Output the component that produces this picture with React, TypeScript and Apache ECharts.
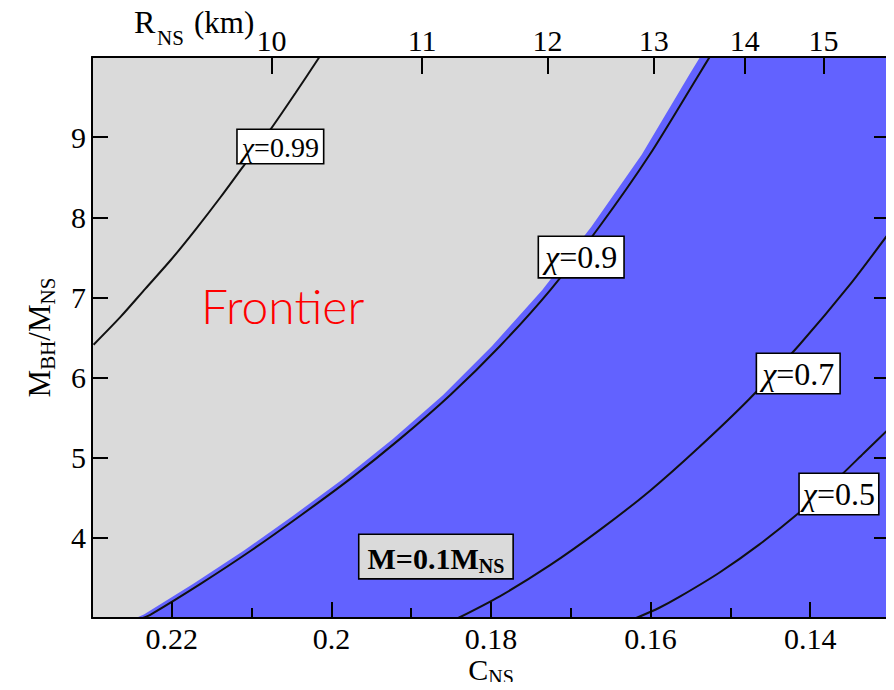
import React, { useEffect, useRef } from 'react';
import * as echarts from 'echarts';

// C_NS * R_NS (km) for the fixed neutron-star mass
const K_CR = 2.075;
const rNsTicks = [10, 11, 12, 13, 14, 15];
const cMajorTicks = [0.14, 0.16, 0.18, 0.2, 0.22];
const cMinorTicks = [0.15, 0.17, 0.19, 0.21];
const mTicks = [4, 5, 6, 7, 8, 9];

// chi = 0.99 contour
const chi099C = [0.2298, 0.2264, 0.2233, 0.2201, 0.217, 0.2139, 0.2108, 0.2076, 0.2045, 0.2015];
const chi099M = [6.41, 6.76, 7.11, 7.47, 7.85, 8.25, 8.67, 9.1, 9.55, 10.0];
// chi = 0.9 contour
const chi09C = [0.2236, 0.2226, 0.2164, 0.2101, 0.2039, 0.1976, 0.1914, 0.1851, 0.1789, 0.1726, 0.1664, 0.1601, 0.1539, 0.1526];
const chi09M = [3.0, 3.045, 3.426, 3.839, 4.276, 4.739, 5.235, 5.783, 6.391, 7.089, 7.885, 8.783, 9.789, 10.0];
// chi = 0.7 contour
const chi07C = [0.1841, 0.1789, 0.1726, 0.1664, 0.1601, 0.1539, 0.1476, 0.1414, 0.1351, 0.13];
const chi07M = [3.0, 3.271, 3.659, 4.096, 4.586, 5.134, 5.736, 6.403, 7.149, 7.821];
// chi = 0.5 contour
const chi05C = [0.1618, 0.1589, 0.1564, 0.1514, 0.1464, 0.1414, 0.1364, 0.1333, 0.13];
const chi05M = [3.0, 3.128, 3.263, 3.565, 3.916, 4.313, 4.756, 5.056, 5.375];
// edge of the blue (M = 0.1 M_NS) region
const frontierC = [0.2245, 0.2235, 0.2173, 0.211, 0.2048, 0.1985, 0.1923, 0.186, 0.1799, 0.1736, 0.1674, 0.1611, 0.1551, 0.1538, 0.13];
const frontierM = [3.0, 3.045, 3.426, 3.839, 4.276, 4.739, 5.235, 5.783, 6.391, 7.089, 7.885, 8.783, 9.789, 10.0, 10.0];

// contour labels
const labelValues = ['0.99', '0.9', '0.7', '0.5'];
const labelC = [0.2064, 0.1687, 0.1415, 0.1364];
const labelM = [8.883, 7.504, 6.051, 4.547];
const massLabelPos = [0.1869, 3.767];

const SERIF = '"Liberation Serif", "Times New Roman", serif';

export default function App() {
  const ref = useRef<HTMLDivElement>(null);

  useEffect(() => {
    if (!ref.current) return;
    const chart = echarts.init(ref.current, null, { renderer: 'svg' });
    const zip = (c: number[], m: number[]) => c.map((v, i) => [v, m[i]]);
    const black = { color: '#000', width: 2 };
    const xBase = {
      type: 'value',
      min: 0.13,
      max: 0.23,
      inverse: true,
      splitLine: { show: false },
      z: 10,
    };
    const yBase = { type: 'value', min: 3, max: 10, splitLine: { show: false }, z: 10 };
    const lineSeries = (c: number[], m: number[]) => ({
      type: 'line',
      data: zip(c, m),
      showSymbol: false,
      symbol: 'none',
      smooth: 0.25,
      lineStyle: { color: '#111', width: 2 },
      z: 3,
      silent: true,
      clip: true,
    });
    const labelSizes = [28, 32, 32, 32];
    const labelPads = [
      [3, 4, 2, 4],
      [4, 6, 4, 6],
      [4, 5, 3, 5],
      [4, 3, 4, 3],
    ];
    const gridRect = {
      left: 92,
      top: 57,
      width: 798,
      height: 561,
      containLabel: false,
      outerBoundsMode: 'none',
    };

    const option: any = {
      animation: false,
      backgroundColor: '#ffffff',
      grid: [
        { ...gridRect, show: true, backgroundColor: '#dadada', borderWidth: 0 },
        { ...gridRect, show: false },
      ],
      xAxis: [
        {
          ...xBase,
          gridIndex: 0,
          position: 'bottom',
          axisLine: { show: true, lineStyle: black },
          axisTick: { show: true, inside: true, length: 16, customValues: cMajorTicks, lineStyle: black },
          axisLabel: {
            show: true,
            customValues: cMajorTicks,
            margin: 7,
            fontFamily: SERIF,
            fontSize: 30,
            lineHeight: 26,
            color: '#000',
            formatter: (v: number) => String(+Number(v).toFixed(2)),
          },
          name: '{a|C}{s|NS}',
          nameLocation: 'middle',
          nameGap: 33,
          nameMoveOverlap: false,
          nameTextStyle: {
            rich: {
              a: { fontFamily: SERIF, fontSize: 30, color: '#000' },
              s: { fontFamily: SERIF, fontSize: 20, color: '#000', padding: [16, 0, 0, 0] },
            },
          },
        },
        {
          ...xBase,
          gridIndex: 0,
          position: 'top',
          axisLine: { show: true, lineStyle: black },
          axisTick: {
            show: true,
            inside: true,
            length: 17,
            customValues: rNsTicks.map((r) => K_CR / r),
            lineStyle: black,
          },
          axisLabel: {
            show: true,
            customValues: rNsTicks.map((r) => K_CR / r),
            margin: 2,
            fontFamily: SERIF,
            fontSize: 30,
            color: '#000',
            formatter: (v: number) => String(Math.round(K_CR / v)),
          },
        },
        {
          ...xBase,
          gridIndex: 1,
          position: 'bottom',
          axisLine: { show: false },
          axisTick: { show: true, inside: true, length: 10, customValues: cMinorTicks, lineStyle: black },
          axisLabel: { show: false },
        },
      ],
      yAxis: [
        {
          ...yBase,
          gridIndex: 0,
          position: 'left',
          axisLine: { show: true, lineStyle: black },
          axisTick: { show: true, inside: true, length: 16, customValues: mTicks, lineStyle: black },
          axisLabel: {
            show: true,
            customValues: mTicks,
            margin: 6,
            fontFamily: SERIF,
            fontSize: 30,
            color: '#000',
          },
          name: '{a|M}{s|BH}{a|/M}{s|NS}',
          nameLocation: 'middle',
          nameRotate: 90,
          nameGap: 34,
          nameMoveOverlap: false,
          nameTextStyle: {
            rich: {
              a: { fontFamily: SERIF, fontSize: 31, color: '#000' },
              s: { fontFamily: SERIF, fontSize: 21, color: '#000', padding: [16, 0, 0, 0] },
            },
          },
        },
        {
          ...yBase,
          gridIndex: 0,
          position: 'right',
          axisLine: { show: true, lineStyle: black },
          axisTick: { show: true, inside: true, length: 16, customValues: mTicks, lineStyle: black },
          axisLabel: { show: false },
        },
        { ...yBase, gridIndex: 1, show: false },
      ],
      series: [
        {
          type: 'line',
          name: 'M=0.1M_NS region',
          data: zip(frontierC, frontierM),
          showSymbol: false,
          symbol: 'none',
          smooth: false,
          lineStyle: { width: 0, color: '#6262ff' },
          areaStyle: { color: '#6262ff', opacity: 1, origin: 'start' },
          z: 1,
          silent: true,
        },
        { ...lineSeries(chi099C, chi099M), name: 'χ=0.99' },
        { ...lineSeries(chi09C, chi09M), name: 'χ=0.9' },
        { ...lineSeries(chi07C, chi07M), name: 'χ=0.7' },
        { ...lineSeries(chi05C, chi05M), name: 'χ=0.5' },
        {
          type: 'scatter',
          name: 'labels',
          silent: true,
          z: 5,
          symbolSize: 1,
          itemStyle: { color: 'rgba(0,0,0,0)', opacity: 1 },
          data: labelC.map((c, i) => ({
            value: [c, labelM[i]],
            label: {
              padding: labelPads[i],
              rich: {
                g: { fontFamily: SERIF, fontSize: labelSizes[i], lineHeight: labelSizes[i], fontStyle: 'italic', color: '#000' },
                t: { fontFamily: SERIF, fontSize: labelSizes[i], lineHeight: labelSizes[i], color: '#000' },
              },
            },
          })),
          label: {
            show: true,
            position: 'inside',
            formatter: (p: any) => '{g|χ}{t|=' + labelValues[p.dataIndex] + '}',
            color: '#000',
            opacity: 1,
            backgroundColor: '#ffffff',
            borderColor: '#000',
            borderWidth: 1.6,
          },
        },
        {
          type: 'scatter',
          name: 'mass label',
          silent: true,
          z: 5,
          symbolSize: 1,
          itemStyle: { color: 'rgba(0,0,0,0)', opacity: 1 },
          data: [massLabelPos],
          label: {
            show: true,
            position: 'inside',
            opacity: 1,
            formatter: '{b|M=0.1M}{s|NS}',
            backgroundColor: '#dadada',
            borderColor: '#000',
            borderWidth: 1.6,
            padding: [5, 8, 2, 8],
            rich: {
              b: { fontFamily: SERIF, fontSize: 30, fontWeight: 'bold', color: '#000' },
              s: { fontFamily: SERIF, fontSize: 20, fontWeight: 'bold', color: '#000', padding: [16, 0, 0, 0] },
            },
          },
        },
      ],
      graphic: [
        {
          type: 'text',
          x: 201,
          y: 305,
          z: 20,
          silent: true,
          style: {
            text: 'Frontier',
            fill: '#ff0000',
            fontFamily: 'Lato, "Open Sans", sans-serif',
            fontWeight: 300,
            fontSize: 48,
            verticalAlign: 'middle',
            align: 'left',
          },
        },
        {
          type: 'text',
          x: 134,
          y: 22,
          z: 20,
          silent: true,
          style: { text: 'R', fill: '#000', fontFamily: SERIF, fontSize: 32, verticalAlign: 'middle', align: 'left' },
        },
        {
          type: 'text',
          x: 157,
          y: 38,
          z: 20,
          silent: true,
          style: { text: 'NS', fill: '#000', fontFamily: SERIF, fontSize: 21, verticalAlign: 'middle', align: 'left' },
        },
        {
          type: 'text',
          x: 194,
          y: 22,
          z: 20,
          silent: true,
          style: { text: '(km)', fill: '#000', fontFamily: SERIF, fontSize: 31, verticalAlign: 'middle', align: 'left' },
        },
      ],
    };

    chart.setOption(option);
    return () => chart.dispose();
  }, []);

  return <div ref={ref} style={{ width: 894, height: 690, margin: -8 }} />;
}
